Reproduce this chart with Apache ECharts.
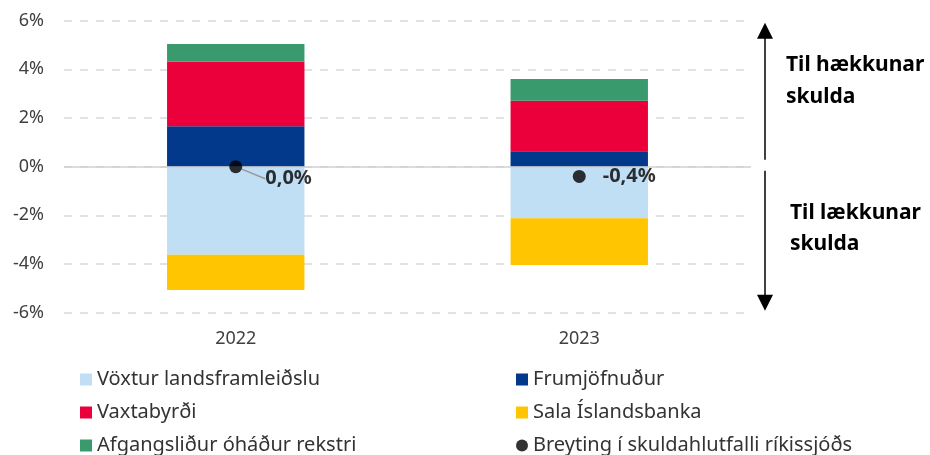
<!DOCTYPE html>
<html>
<head>
<meta charset="utf-8">
<script src="https://cdn.jsdelivr.net/npm/echarts@6/dist/echarts.min.js"></script>
<style>
  html, body { margin: 0; padding: 0; background: #fff; }
  #chart { width: 930px; height: 455px; }
</style>
</head>
<body>
<div id="chart"></div>
<script>
// Gögn
const years = ['2022', '2023']
const voxtur = [-3.62, -2.12]      // Vöxtur landsframleiðslu
const frumjofnudur = [1.66, 0.63]  // Frumjöfnuður
const vaxtabyrdi = [2.66, 2.08]    // Vaxtabyrði
const sala = [-1.45, -1.92]        // Sala Íslandsbanka
const afgangslidur = [0.72, 0.89]  // Afgangsliður óháður rekstri
const breyting = [0.0, -0.4]       // Breyting í skuldahlutfalli ríkissjóðs
const yTicks = [-6, -4, -2, 0, 2, 4, 6]

const FONT = 'Noto Sans'
const chart = echarts.init(document.getElementById('chart'))

const barSeries = (name, data, color) => ({
  name,
  type: 'bar',
  stack: 'total',
  data,
  barWidth: '40%',
  itemStyle: { color },
  emphasis: { disabled: true }
})

const fmt = (v) => v.toFixed(1).replace('.', ',') + '%'

const option = {
  animation: false,
  textStyle: { fontFamily: FONT },
  grid: { left: 64, right: 179, top: 20.7, bottom: 142.3 },
  legend: {
    left: 75,
    top: 358,
    width: 880,
    itemGap: 0,
    itemWidth: 12,
    itemHeight: 12,
    textStyle: { fontFamily: FONT, fontSize: 20, color: '#333', width: 419, lineHeight: 33 },
    data: [
      { name: 'Vöxtur landsframleiðslu', icon: 'rect' },
      { name: 'Frumjöfnuður', icon: 'rect' },
      { name: 'Vaxtabyrði', icon: 'rect' },
      { name: 'Sala Íslandsbanka', icon: 'rect' },
      { name: 'Afgangsliður óháður rekstri', icon: 'rect' },
      { name: 'Breyting í skuldahlutfalli ríkissjóðs', icon: 'circle' }
    ]
  },
  xAxis: {
    type: 'category',
    data: years,
    position: 'bottom',
    axisLine: { show: false, onZero: false },
    axisTick: { show: false },
    axisLabel: { fontFamily: FONT, fontSize: 18, color: '#404040', margin: 17 }
  },
  yAxis: {
    type: 'value',
    min: yTicks[0],
    max: yTicks[yTicks.length - 1],
    interval: 2,
    axisLabel: {
      fontFamily: FONT, fontSize: 18, color: '#404040', margin: 20,
      formatter: (v) => v + '%'
    },
    splitLine: { lineStyle: { color: '#d9d9d9', type: [8, 8], width: 1.5 } }
  },
  series: [
    Object.assign(barSeries('Vöxtur landsframleiðslu', voxtur, '#C0DEF4'), {
      markLine: {
        silent: true,
        symbol: 'none',
        label: { show: false },
        lineStyle: { color: '#d0d0d0', type: 'solid', width: 1.5 },
        data: [{ yAxis: 0 }]
      }
    }),
    barSeries('Frumjöfnuður', frumjofnudur, '#02398A'),
    barSeries('Vaxtabyrði', vaxtabyrdi, '#EB003C'),
    barSeries('Sala Íslandsbanka', sala, '#FFC500'),
    barSeries('Afgangsliður óháður rekstri', afgangslidur, '#399B6D'),
    {
      name: 'Breyting í skuldahlutfalli ríkissjóðs',
      type: 'scatter',
      z: 5,
      symbolSize: 13,
      itemStyle: { color: '#000' },
      data: breyting.map((v, i) => i === 0
        ? { value: v, labelLine: { show: true, lineStyle: { color: '#999', width: 1.5 } } }
        : { value: v }),
      // fyrsti merkimiðinn færður niður með línu að punktinum
      labelLayout: (p) => (p.dataIndex === 0 ? { dx: 6, dy: 12 } : {}),
      label: {
        show: true,
        position: 'right',
        distance: 17,
        fontFamily: FONT,
        fontSize: 20,
        fontWeight: 'bold',
        color: '#000',
        formatter: (p) => fmt(p.value)
      }
    }
  ]
}

chart.setOption(option)

// Örvar og skýringartexti til hægri
const yTop = chart.convertToPixel({ yAxisIndex: 0 }, yTicks[yTicks.length - 1])
const yBottom = chart.convertToPixel({ yAxisIndex: 0 }, yTicks[0])
const yZero = chart.convertToPixel({ yAxisIndex: 0 }, 0)
const ax = 765
chart.setOption({
  graphic: [
    { type: 'line', shape: { x1: ax, y1: yTop + 16, x2: ax, y2: yZero - 7 }, style: { stroke: '#000', lineWidth: 1.5 } },
    { type: 'polygon', shape: { points: [[ax, yTop + 2], [ax - 8, yTop + 18], [ax + 8, yTop + 18]] }, style: { fill: '#000' } },
    { type: 'line', shape: { x1: ax, y1: yZero + 4, x2: ax, y2: yBottom - 16 }, style: { stroke: '#000', lineWidth: 1.5 } },
    { type: 'polygon', shape: { points: [[ax, yBottom - 2], [ax - 8, yBottom - 18], [ax + 8, yBottom - 18]] }, style: { fill: '#000' } },
    {
      type: 'text', left: 786, top: 49,
      style: { text: 'Til hækkunar\nskulda', font: 'bold 21px "Noto Sans"', fill: '#000', lineHeight: 32 }
    },
    {
      type: 'text', left: 790, top: 198,
      style: { text: 'Til lækkunar\nskulda', font: 'bold 21px "Noto Sans"', fill: '#000', lineHeight: 31 }
    }
  ]
})
</script>
</body>
</html>
